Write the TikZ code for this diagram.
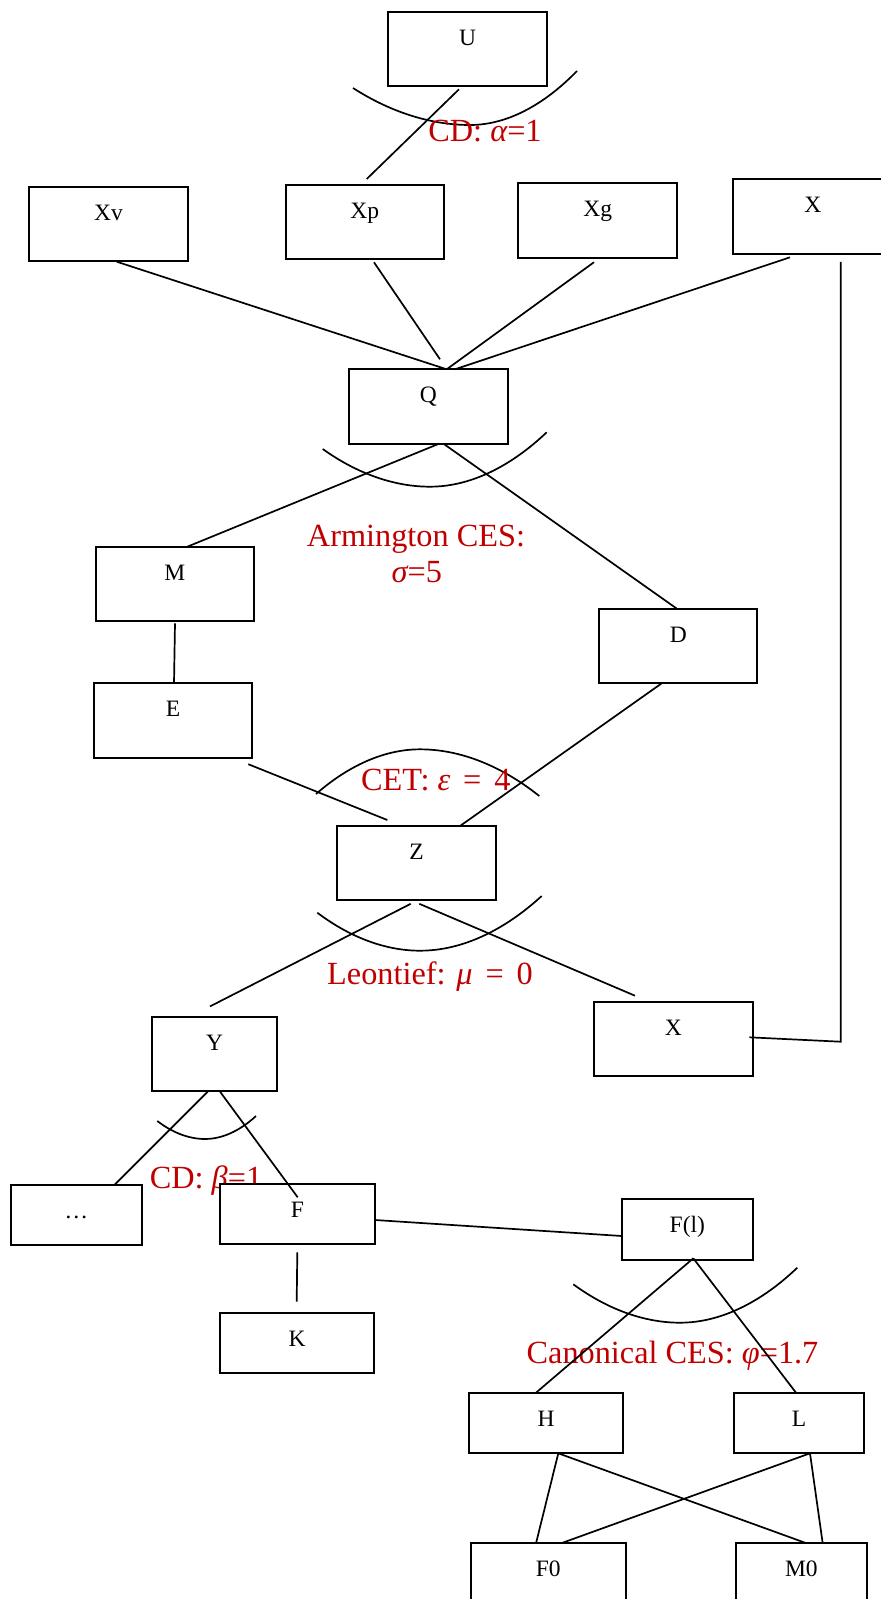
\documentclass[tikz,border=0pt]{standalone}
\usepackage{fontspec}
\setmainfont{Liberation Serif}
\usetikzlibrary{calc}
\definecolor{labred}{RGB}{192,0,0}
\begin{document}
\begin{tikzpicture}[x=1pt,y=-1pt,
  box/.style={draw, fill=white, line width=1.8pt, inner xsep=0pt, inner ysep=0pt, outer sep=0pt, anchor=north west, font=\fontsize{23.5}{28}\selectfont, text height=33.5pt},
  tall/.style={text depth=40.8pt},
  short/.style={text depth=26.5pt},
  conn/.style={line width=1.7pt},
  arcline/.style={line width=1.7pt},
  elab/.style={text=labred, anchor=base, inner sep=0pt, font=\fontsize{32.3}{36}\selectfont}]
\useasboundingbox (0,0) rectangle (881,1599);
\clip (0,0) rectangle (881,1599);

% elasticity arcs
\draw[arcline] (353,88) parabola bend (470,125) (577,71);
\draw[arcline] (322.7,449) parabola bend (430,486.7) (546.7,432.3);
\draw[arcline] (316,794) parabola bend (420,749.3) (539.3,796);
\draw[arcline] (317.3,912.7) parabola bend (420,950.7) (541.7,896);
\draw[arcline] (157.3,1121) parabola bend (205,1139) (256,1116);
\draw[arcline] (573.3,1284.3) parabola bend (680,1322.7) (797.3,1267.7);

% red labels
\node[elab] (lab1) at (485,141.7) {CD: {\itshape α}=1};
\node[elab] (lab2) at (416,546.7) {Armington CES:};
\node[elab] (lab2b) at (416.8,582.7) {{\itshape σ}=5};
\node[elab] (lab3) at (435.8,790) {CET: {\itshape ε}\hspace{0.4em}=\hspace{0.4em}4};
\node[elab] (lab4) at (430,984.5) {Leontief: {\itshape μ}\hspace{0.4em}=\hspace{0.4em}0};
\node[elab] (lab5) at (206,1188.3) {CD: {\itshape β}=1};
\node[elab] (lab6) at (672.5,1363.3) {Canonical CES: {\itshape φ}=1.7};

% boxes
\node[box,tall,minimum width=159pt] (U) at (388,12) {U};
\node[box,tall,minimum width=158.4pt] (Xv) at (29.3,186.7) {Xv};
\node[box,tall,minimum width=158.3pt] (Xp) at (285.7,185) {Xp};
\node[box,tall,minimum width=159pt] (Xg) at (518.3,183.3) {Xg};
\node[box,tall,minimum width=159pt] (Xt) at (733.3,179.3) {X};
\node[box,tall,minimum width=158.7pt] (Q) at (349,369.3) {Q};
\node[box,tall,minimum width=158.3pt] (M) at (95.7,546.7) {M};
\node[box,tall,minimum width=158.3pt] (E) at (94,683.3) {E};
\node[box,tall,minimum width=158pt] (D) at (599.3,609) {D};
\node[box,tall,minimum width=158.7pt] (Z) at (337.3,826) {Z};
\node[box,tall,minimum width=125.3pt] (Y) at (152,1016.6) {Y};
\node[box,tall,minimum width=158.7pt] (Xm) at (594,1001.7) {X};
\node[box,short,minimum width=130.7pt] (dots) at (11,1185) {…};
\node[box,short,minimum width=155pt] (F) at (220,1184) {F};
\node[box,short,minimum width=154.3pt] (K) at (220,1312.7) {K};
\node[box,minimum width=130.7pt,text depth=27.2pt] (Fl) at (622,1199.3) {F(l)};
\node[box,short,minimum width=154.3pt] (H) at (469,1392.7) {H};
\node[box,short,minimum width=130.3pt] (L) at (734,1392.7) {L};
\node[box,short,minimum width=155.4pt] (F0) at (470.6,1543.3) {F0};
\node[box,short,minimum width=130.7pt] (M0) at (736,1543.3) {M0};

% connectors
\draw[conn] ($(U.south west)+(71,3)$) -- ($(Xp.north west)+(81,-6)$);
\draw[conn] ($(Xv.south west)+(87.4,0.7)$) -- ($(Q.north west)+(97.7,0)$);
\draw[conn] ($(Xp.south west)+(88.3,3)$) -- ($(Q.north west)+(91,-10)$);
\draw[conn] ($(Xg.south west)+(75.7,4.6)$) -- ($(Q.north west)+(97.7,0)$);
\draw[conn] ($(Xt.south west)+(56.7,3.7)$) -- ($(Q.north west)+(106,0)$);
\coordinate (corner) at (840.7,1041.7);
\draw[conn] ($(Xt.south west)+(107.4,8.3)$) -- (corner) -- ($(Xm.north west)+(155.3,35.6)$);
\draw[conn] ($(Q.south west)+(90.3,0)$) -- ($(M.north west)+(91.6,0)$);
\draw[conn] ($(Q.south west)+(94.3,0)$) -- ($(D.north west)+(78,0)$);
\draw[conn] ($(M.south west)+(79.3,2.3)$) -- ($(E.north west)+(80,0)$);
\draw[conn] ($(E.south west)+(154.3,6.6)$) -- ($(Z.north west)+(50,-6)$);
\draw[conn] ($(D.south west)+(62.4,0)$) -- ($(Z.north west)+(122.7,0)$);
\draw[conn] ($(Z.south west)+(73.4,3.5)$) -- ($(Y.north west)+(58,-10.2)$);
\draw[conn] ($(Z.south west)+(82,3.5)$) -- ($(Xm.north west)+(41,-6)$);
\draw[conn] ($(Y.south west)+(55.7,0.7)$) -- ($(dots.north west)+(103.3,0)$);
\draw[conn] ($(Y.south west)+(68,0.7)$) -- ($(F.north west)+(77.7,13.3)$);
\draw[conn] ($(F.south west)+(77.3,8.3)$) -- ($(K.north west)+(76.7,-11)$);
\draw[conn] ($(F.north west)+(155,36)$) -- ($(Fl.north west)+(0,36.7)$);
\draw[conn] ($(Fl.south west)+(71.3,-1.7)$) -- ($(H.north west)+(67,0)$);
\draw[conn] ($(Fl.south west)+(71.3,-1.7)$) -- ($(L.north west)+(62,0)$);
\draw[conn] ($(H.south west)+(89.3,0.6)$) -- ($(F0.north west)+(65.4,0)$);
\draw[conn] ($(H.south west)+(89.3,0.6)$) -- ($(M0.north west)+(70.7,0)$);
\draw[conn] ($(L.south west)+(76,0.6)$) -- ($(F0.north west)+(90.4,0)$);
\draw[conn] ($(L.south west)+(76,0.6)$) -- ($(M0.north west)+(86.7,0)$);
\end{tikzpicture}
\end{document}
